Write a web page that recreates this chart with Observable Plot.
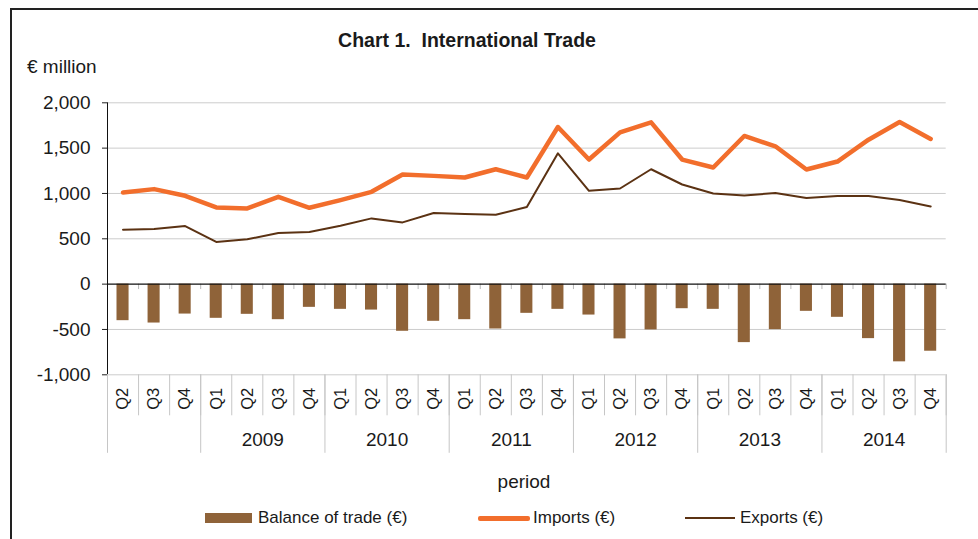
<!DOCTYPE html>
<html><head><meta charset="utf-8">
<script src="https://cdn.jsdelivr.net/npm/d3@7"></script>
<script src="https://cdn.jsdelivr.net/npm/@observablehq/plot@0.6"></script>
<style>
html,body{margin:0;padding:0;background:#fff;}
body{width:978px;height:539px;overflow:hidden;position:relative;font-family:"Liberation Sans",Arial,sans-serif;color:#1a1a1a;}
#frame{position:absolute;left:10px;top:8px;width:1000px;height:600px;border:2.5px solid #222;box-sizing:border-box;}
#chart{position:absolute;left:0;top:0;}
.txt{position:absolute;white-space:pre;line-height:22px;}
#title{left:0;width:934px;top:29px;text-align:center;font-weight:bold;font-size:19.5px;}
#unit{left:27px;top:56px;font-size:19px;}
#xlabel{left:0;width:1048px;top:471px;text-align:center;font-size:19px;}
.sw{position:absolute;}
.lg{position:absolute;font-size:17px;line-height:20px;top:508px;white-space:pre;}
</style>
</head><body>
<div id="frame"></div>
<div id="chart"></div>
<div class="txt" id="title">Chart 1.  International Trade</div>
<div class="txt" id="unit">€ million</div>
<div class="txt" id="xlabel">period</div>
<div class="sw" style="left:205px;top:513px;width:47px;height:10px;background:#8F6339"></div>
<div class="lg" style="left:258px">Balance of trade (€)</div>
<div class="sw" style="left:478px;top:516px;width:52px;height:5px;border-radius:2px;background:#F26E2C"></div>
<div class="lg" style="left:533px">Imports (€)</div>
<div class="sw" style="left:685px;top:517px;width:50px;height:2px;background:#5B3213"></div>
<div class="lg" style="left:740px">Exports (€)</div>
<script>
// ---- data ----
const quarters = ["Q2","Q3","Q4",
  "Q1","Q2","Q3","Q4", "Q1","Q2","Q3","Q4", "Q1","Q2","Q3","Q4",
  "Q1","Q2","Q3","Q4", "Q1","Q2","Q3","Q4", "Q1","Q2","Q3","Q4"];
const yearGroups = ["", "2009", "2010", "2011", "2012", "2013", "2014"];
const groupSizes = [3, 4, 4, 4, 4, 4, 4];
const imports = [1011,1048,974,846,835,963,842,927,1018,1209,1194,1176,1267,1176,1733,1374,1674,1784,1374,1286,1634,1520,1264,1352,1593,1788,1601];
const exportsV = [601,608,641,465,494,564,575,645,725,681,784,773,766,850,1443,1029,1055,1267,1099,1000,978,1004,949,971,971,927,857];
const balance = [-403,-429,-330,-377,-333,-392,-256,-278,-286,-520,-410,-392,-495,-322,-278,-341,-604,-505,-271,-278,-645,-502,-300,-366,-601,-857,-740];
const yTicks = [-1000,-500,0,500,1000,1500,2000];

// ---- derived ----
const data = quarters.map((q, i) => ({i, q, imports: imports[i], exports: exportsV[i], balance: balance[i]}));
const n = data.length;
const boundaries = d3.range(n + 1);
const centers = data.map(d => d.i + 0.5);
const groupEnds = d3.cumsum(groupSizes);
const yearBounds = [0, ...groupEnds];
const yearCenters = [];
const yearByCenter = new Map();
yearGroups.forEach((y, k) => {
  const c = groupEnds[k] - groupSizes[k] / 2;
  if (y) { yearCenters.push(c); yearByCenter.set(c, y); }
});

const W = 978, H = 460;
const plotTop = 102.3, plotBottom = 374.3;
const font = '"Liberation Sans", Arial, sans-serif';

const chart = Plot.plot({
  width: W, height: H,
  marginLeft: 107, marginRight: 32.3, marginTop: plotTop, marginBottom: H - plotBottom,
  x: {type: "linear", domain: [0, n], label: null},
  y: {domain: [-1000, 2000], label: null},
  style: {fontFamily: font, color: "#1a1a1a", background: "transparent", overflow: "visible"},
  marks: [
    Plot.gridY({ticks: yTicks.filter(t => t !== 0), stroke: "#cccccc", strokeOpacity: 1, strokeWidth: 1}),
    Plot.axisY({ticks: yTicks, tickSize: 5, tickPadding: 12, tickFormat: d => d.toLocaleString("en-US"),
      fontSize: 19, stroke: "#222", label: null}),
    Plot.rectY(data, {x: "i", interval: 1, y: "balance", insetLeft: 9.5, insetRight: 9.5, fill: "#8F6339"}),
    Plot.ruleX(boundaries, {y1: 0, y2: -60, stroke: "#b8b8b8"}),
    Plot.ruleX([0], {y1: -1000, y2: 2000, stroke: "#111"}),
    Plot.ruleY([0], {stroke: "#111", strokeWidth: 1.3}),
    Plot.line(data, {x: d => d.i + 0.5, y: "imports", stroke: "#F26E2C", strokeWidth: 4.5, strokeLinejoin: "round"}),
    Plot.line(data, {x: d => d.i + 0.5, y: "exports", stroke: "#5B3213", strokeWidth: 2, strokeLinejoin: "round"}),
    Plot.axisX({ticks: boundaries, tickSize: 41, stroke: "#c6c6c6", fill: "none", label: null}),
    Plot.axisX({ticks: yearBounds, tickSize: 78.5, stroke: "#c6c6c6", fill: "none", label: null}),
    Plot.axisX({ticks: centers, tickSize: 0, tickPadding: 13, tickRotate: -90, textAnchor: "end", lineAnchor: "middle",
      tickFormat: c => quarters[Math.floor(c)], fontSize: 16.5, label: null}),
    Plot.axisX({ticks: yearCenters, tickSize: 0, tickPadding: 58, tickFormat: c => yearByCenter.get(c), fontSize: 19, label: null})
  ]
});
document.getElementById("chart").append(chart);
</script>
</body></html>
